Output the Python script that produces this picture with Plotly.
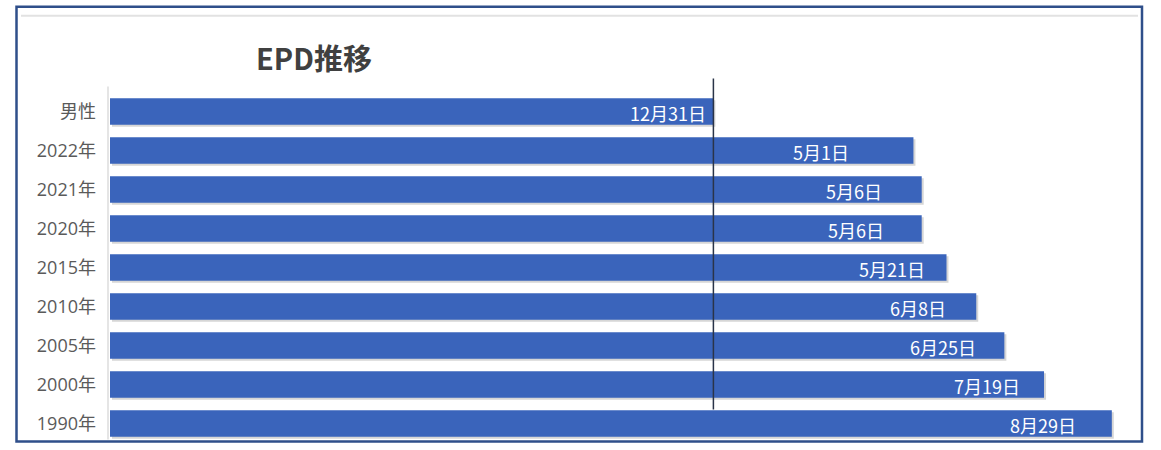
import plotly.graph_objects as go

categories = ["男性", "2022年", "2021年", "2020年", "2015年", "2010年", "2005年", "2000年", "1990年"]
days = [365, 486, 491, 491, 506, 524, 541, 565, 606]
labels = ["12月31日", "5月1日", "5月6日", "5月6日", "5月21日", "6月8日", "6月25日", "7月19日", "8月29日"]
title_text = "EPD推移"

# label offsets from bar end (styling, in px)
label_pad = [-5, -62, -38, -36, -20, -28, -26, -22, -34]

W, H = 1161, 450
L, R = 110, 1130
T, B = 91.5, 443.5
pw, ph = R - L, B - T

def px(x):
    return (x - L) / pw

def py(y):
    return (B - y) / ph

fig = go.Figure()
# soft shadow
fig.add_trace(go.Bar(
    y=categories, x=days, orientation="h",
    marker=dict(color="rgba(90,90,90,0.25)", line=dict(width=0)),
    width=0.68, offset=-0.29, base=1.2,
    hoverinfo="skip",
))
fig.add_trace(go.Bar(
    y=categories, x=days, orientation="h",
    marker=dict(color="#3a64bb", line=dict(width=0)),
    width=0.68, offset=-0.34,
    hoverinfo="skip",
))

annotations = [dict(
    text="<b>" + title_text + "</b>", x=px(254), y=py(56),
    xref="paper", yref="paper", xanchor="left", yanchor="middle",
    showarrow=False, font=dict(size=29, color="#404040", family="Noto Sans CJK JP"))]
for cat, d, lab, pad in zip(categories, days, labels, label_pad):
    annotations.append(dict(
        text=lab, x=d, y=cat, xref="x", yref="y", xanchor="right", yanchor="middle",
        xshift=pad, yshift=-1, showarrow=False,
        font=dict(size=18, color="white", family="Noto Sans CJK JP")))

fig.update_layout(
    width=W, height=H,
    margin=dict(l=L, r=W - R, t=T, b=H - B),
    paper_bgcolor="white", plot_bgcolor="white",
    showlegend=False, barmode="overlay",
    xaxis=dict(range=[0, 617], visible=False, fixedrange=True),
    yaxis=dict(autorange=False, range=[8.5, -0.5], type="category",
               categoryorder="array", categoryarray=categories,
               tickfont=dict(size=18, color="#5a5a5a", family="Open Sans, Noto Sans CJK JP"),
               showgrid=False, ticks="", ticklabelstandoff=13,
               showline=False, zeroline=False, fixedrange=True),
    annotations=annotations,
    shapes=[
        dict(type="rect", xref="paper", yref="paper",
             x0=px(16.5), x1=px(1142), y0=py(442), y1=py(6),
             line=dict(color="#2f4f8a", width=2.5), fillcolor="rgba(0,0,0,0)", layer="below"),
        dict(type="line", xref="paper", yref="paper",
             x0=px(21), x1=px(1138), y0=py(15), y1=py(15),
             line=dict(color="#e2e2e2", width=2)),
        dict(type="line", xref="paper", yref="paper",
             x0=px(108), x1=px(108), y0=py(86), y1=py(440),
             line=dict(color="#dcdcdc", width=1.5)),
        dict(type="line", xref="x", yref="paper",
             x0=days[0], x1=days[0], y0=py(410), y1=py(78),
             line=dict(color="#2a3448", width=1.5), layer="above"),
    ],
)

fig.write_html("out.html", config={"displayModeBar": False},
               post_script="document.body.style.margin='0';document.body.style.overflow='hidden';")
